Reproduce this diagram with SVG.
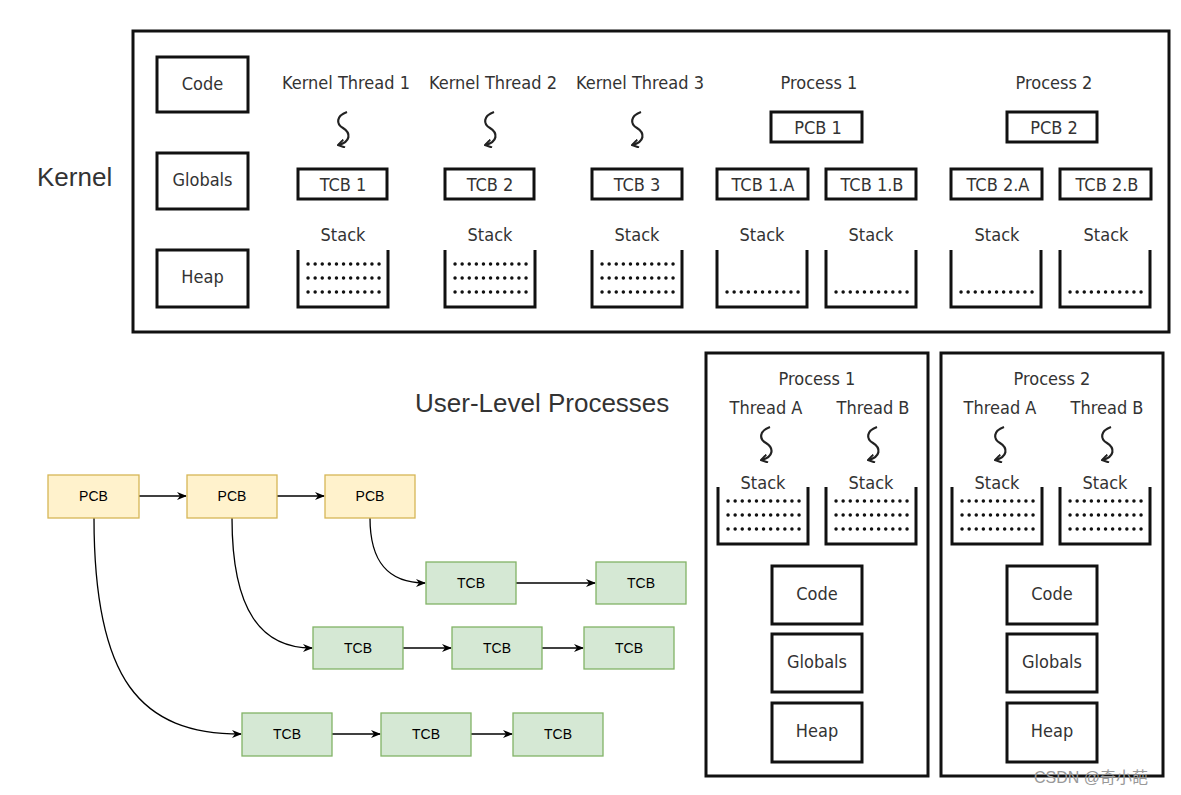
<svg xmlns="http://www.w3.org/2000/svg" width="1181" height="795" viewBox="0 0 1181 795">
<style>
.frame{fill:none;stroke:#111;stroke-width:3}
.box{fill:#fff;stroke:#111;stroke-width:3}
.lbl{font-family:"Liberation Sans Narrow","DejaVu Sans Condensed","Liberation Sans",sans-serif;font-size:18px;fill:#333;text-anchor:middle}
.big{font-family:"Liberation Sans",Arial,sans-serif;font-size:26px;fill:#333}
.stk{fill:none;stroke:#111;stroke-width:3}
.dots{fill:none;stroke:#111;stroke-width:3.4;stroke-linecap:round;stroke-dasharray:0.1 7}
.sq{fill:none;stroke:#222;stroke-width:2.2;marker-end:url(#hook)}
.pcb{fill:#fff2cc;stroke:#d6b656;stroke-width:1.3}
.tcb{fill:#d5e8d4;stroke:#82b366;stroke-width:1.3}
.sm{font-family:"Liberation Sans",Arial,Helvetica,sans-serif;font-size:14px;fill:#000;text-anchor:middle}
.conn{fill:none;stroke:#000;stroke-width:1.3;marker-end:url(#arr)}
</style>
<defs>
<marker id="arr" viewBox="0 0 10 10" refX="9" refY="5" markerWidth="10" markerHeight="10" markerUnits="userSpaceOnUse" orient="auto">
<path d="M0,1 L10,5 L0,9 L3,5 z" fill="#000"/>
</marker>
<marker id="hook" viewBox="0 0 10 10" refX="9" refY="5" markerWidth="9" markerHeight="9" markerUnits="userSpaceOnUse" orient="auto">
<path d="M2,0.5 L9,5 L2,9.5" fill="none" stroke="#222" stroke-width="2.2"/>
</marker>
<path id="squig" d="M4 0 C -7 4, -7 12, 0 16 C 8 21, 8 30, -5 33"/>
<g id="stack3">
<path class="stk" d="M0 0 V57 H90 V0"/>
<path class="dots" d="M10 14 H84 M10 28 H84 M10 42 H84"/>
</g>
<g id="stack1">
<path class="stk" d="M0 0 V57 H90 V0"/>
<path class="dots" d="M10 42 H84"/>
</g>
</defs>
<rect width="1181" height="795" fill="#fff"/>

<!-- Kernel section -->
<g id="kernel">
<text class="big" x="37" y="186">Kernel</text>
<rect class="frame" x="133" y="31" width="1036" height="301"/>
</g>
<g id="k-code"><rect class="box" x="157" y="57" width="91" height="55"/><text class="lbl" x="202.5" y="90">Code</text></g>
<g id="k-globals"><rect class="box" x="157" y="153" width="91" height="56"/><text class="lbl" x="202.5" y="186">Globals</text></g>
<g id="k-heap"><rect class="box" x="157" y="250" width="91" height="57"/><text class="lbl" x="202.5" y="283">Heap</text></g>

<g id="kt1">
<text class="lbl" x="346" y="89">Kernel Thread 1</text>
<use href="#squig" class="sq" transform="translate(343,112)"/>
<rect class="box" x="298" y="169" width="89" height="30"/><text class="lbl" x="343" y="191">TCB 1</text>
<text class="lbl" x="343" y="241">Stack</text>
<use href="#stack3" transform="translate(298,250)"/>
</g>
<g id="kt2">
<text class="lbl" x="493" y="89">Kernel Thread 2</text>
<use href="#squig" class="sq" transform="translate(490,112)"/>
<rect class="box" x="445" y="169" width="89" height="30"/><text class="lbl" x="490" y="191">TCB 2</text>
<text class="lbl" x="490" y="241">Stack</text>
<use href="#stack3" transform="translate(445,250)"/>
</g>
<g id="kt3">
<text class="lbl" x="640" y="89">Kernel Thread 3</text>
<use href="#squig" class="sq" transform="translate(637,112)"/>
<rect class="box" x="592" y="169" width="90" height="30"/><text class="lbl" x="637" y="191">TCB 3</text>
<text class="lbl" x="637" y="241">Stack</text>
<use href="#stack3" transform="translate(592,250)"/>
</g>
<g id="kp1">
<text class="lbl" x="819" y="89">Process 1</text>
<rect class="box" x="771" y="112" width="91" height="30"/><text class="lbl" x="818" y="134">PCB 1</text>
<rect class="box" x="717" y="169" width="91" height="30"/><text class="lbl" x="763" y="191">TCB 1.A</text>
<rect class="box" x="826" y="169" width="90" height="30"/><text class="lbl" x="872" y="191">TCB 1.B</text>
<text class="lbl" x="762" y="241">Stack</text>
<text class="lbl" x="871" y="241">Stack</text>
<use href="#stack1" transform="translate(717,250)"/>
<use href="#stack1" transform="translate(826,250)"/>
</g>
<g id="kp2">
<text class="lbl" x="1054" y="89">Process 2</text>
<rect class="box" x="1007" y="112" width="90" height="30"/><text class="lbl" x="1054" y="134">PCB 2</text>
<rect class="box" x="951" y="169" width="91" height="30"/><text class="lbl" x="998" y="191">TCB 2.A</text>
<rect class="box" x="1060" y="169" width="91" height="30"/><text class="lbl" x="1107" y="191">TCB 2.B</text>
<text class="lbl" x="997" y="241">Stack</text>
<text class="lbl" x="1106" y="241">Stack</text>
<use href="#stack1" transform="translate(951,250)"/>
<use href="#stack1" transform="translate(1060,250)"/>
</g>

<!-- User-level section -->
<text class="big" x="415" y="412">User-Level Processes</text>

<g id="up1">
<rect class="frame" x="706" y="353" width="222" height="423"/>
<text class="lbl" x="817" y="385">Process 1</text>
<text class="lbl" x="766" y="414">Thread A</text>
<text class="lbl" x="873" y="414">Thread B</text>
<use href="#squig" class="sq" transform="translate(766,427)"/>
<use href="#squig" class="sq" transform="translate(873,427)"/>
<text class="lbl" x="763" y="489">Stack</text>
<text class="lbl" x="871" y="489">Stack</text>
<use href="#stack3" transform="translate(718,487)"/>
<use href="#stack3" transform="translate(826,487)"/>
<rect class="box" x="772" y="566" width="90" height="58"/><text class="lbl" x="817" y="600">Code</text>
<rect class="box" x="772" y="634" width="90" height="58"/><text class="lbl" x="817" y="668">Globals</text>
<rect class="box" x="772" y="703" width="90" height="59"/><text class="lbl" x="817" y="737">Heap</text>
</g>
<g id="up2">
<rect class="frame" x="941" y="353" width="222" height="423"/>
<text class="lbl" x="1052" y="385">Process 2</text>
<text class="lbl" x="1000" y="414">Thread A</text>
<text class="lbl" x="1107" y="414">Thread B</text>
<use href="#squig" class="sq" transform="translate(1000,427)"/>
<use href="#squig" class="sq" transform="translate(1107,427)"/>
<text class="lbl" x="997" y="489">Stack</text>
<text class="lbl" x="1105" y="489">Stack</text>
<use href="#stack3" transform="translate(952,487)"/>
<use href="#stack3" transform="translate(1060,487)"/>
<rect class="box" x="1007" y="566" width="90" height="58"/><text class="lbl" x="1052" y="600">Code</text>
<rect class="box" x="1007" y="634" width="90" height="58"/><text class="lbl" x="1052" y="668">Globals</text>
<rect class="box" x="1007" y="703" width="90" height="59"/><text class="lbl" x="1052" y="737">Heap</text>
</g>

<!-- lower-left linked lists -->
<g id="connectors">
<path class="conn" d="M139 496 H186"/>
<path class="conn" d="M277 496 H324"/>
<path class="conn" d="M94 518 C 94 680, 140 734, 241 734"/>
<path class="conn" d="M232 518 C 232 612, 262 648, 312 648"/>
<path class="conn" d="M370 518 C 370 562, 388 583, 425 583"/>
<path class="conn" d="M516 583 H595"/>
<path class="conn" d="M403 648 H451"/>
<path class="conn" d="M542 648 H583"/>
<path class="conn" d="M332 734 H380"/>
<path class="conn" d="M471 734 H512"/>
</g>
<g id="pcb-1"><rect class="pcb" x="48" y="475" width="91" height="43"/><text class="sm" x="93.5" y="501">PCB</text></g>
<g id="pcb-2"><rect class="pcb" x="187" y="475" width="90" height="43"/><text class="sm" x="232" y="501">PCB</text></g>
<g id="pcb-3"><rect class="pcb" x="325" y="475" width="90" height="43"/><text class="sm" x="370" y="501">PCB</text></g>
<g id="tcb-1a"><rect class="tcb" x="426" y="562" width="90" height="42"/><text class="sm" x="471" y="588">TCB</text></g>
<g id="tcb-1b"><rect class="tcb" x="596" y="562" width="90" height="42"/><text class="sm" x="641" y="588">TCB</text></g>
<g id="tcb-2a"><rect class="tcb" x="313" y="627" width="90" height="42"/><text class="sm" x="358" y="653">TCB</text></g>
<g id="tcb-2b"><rect class="tcb" x="452" y="627" width="90" height="42"/><text class="sm" x="497" y="653">TCB</text></g>
<g id="tcb-2c"><rect class="tcb" x="584" y="627" width="90" height="42"/><text class="sm" x="629" y="653">TCB</text></g>
<g id="tcb-3a"><rect class="tcb" x="242" y="713" width="90" height="43"/><text class="sm" x="287" y="739">TCB</text></g>
<g id="tcb-3b"><rect class="tcb" x="381" y="713" width="90" height="43"/><text class="sm" x="426" y="739">TCB</text></g>
<g id="tcb-3c"><rect class="tcb" x="513" y="713" width="90" height="43"/><text class="sm" x="558" y="739">TCB</text></g>

<text x="1034" y="783" font-family="'Liberation Sans','Noto Sans CJK SC',sans-serif" font-size="16" fill="#999">CSDN @奇小葩</text>
</svg>
